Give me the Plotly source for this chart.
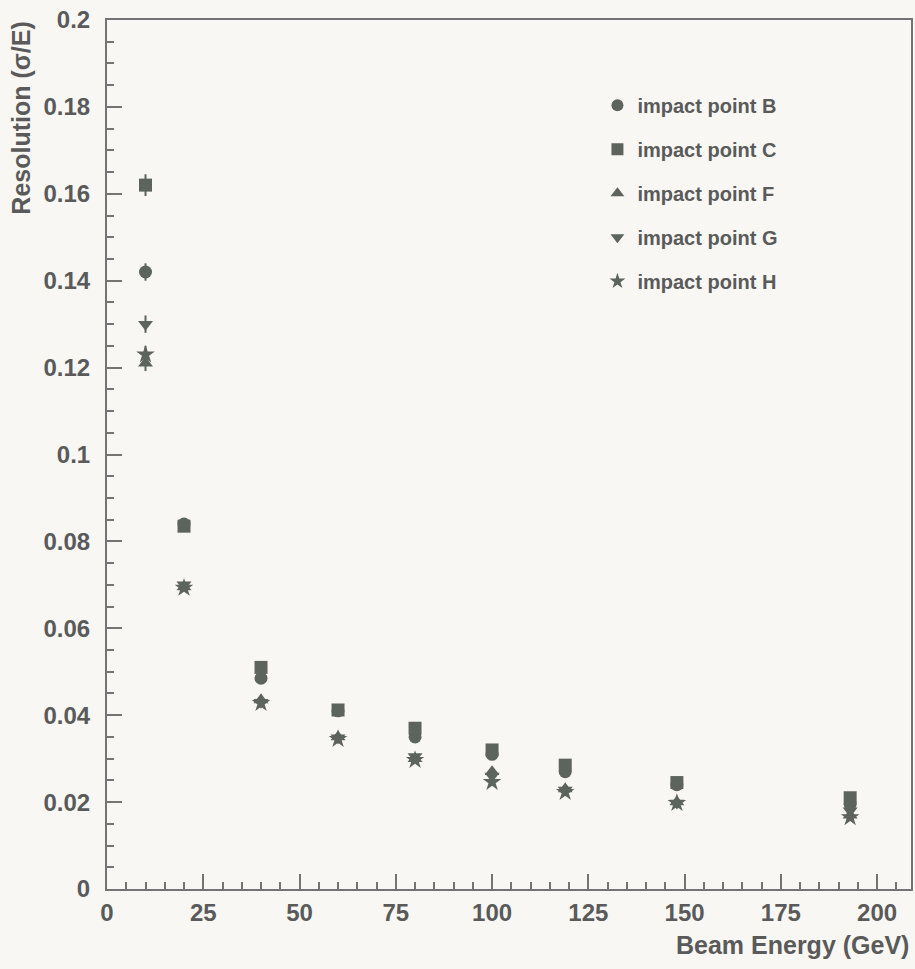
import plotly.graph_objects as go

# ---- data ----
energy = [10, 20, 40, 60, 80, 100, 119, 148, 193]

res_B = [0.142, 0.0840, 0.0485, 0.0410, 0.0350, 0.0310, 0.0270, 0.0240, 0.0195]
res_C = [0.162, 0.0835, 0.0510, 0.0412, 0.0370, 0.0320, 0.0285, 0.0245, 0.0210]
res_F = [0.121, 0.0695, 0.0435, 0.0350, 0.0300, 0.0270, 0.0230, 0.0200, 0.0170]
res_G = [0.130, 0.0700, 0.0430, 0.0348, 0.0305, 0.0260, 0.0228, 0.0198, 0.0180]
res_H = [0.123, 0.0693, 0.0428, 0.0345, 0.0297, 0.0246, 0.0223, 0.0198, 0.0165]

err_B = [0.0020, 0.0008, 0.0006, 0.0005, 0.0005, 0.0004, 0.0004, 0.0004, 0.0004]
err_C = [0.0025, 0.0008, 0.0006, 0.0005, 0.0005, 0.0004, 0.0004, 0.0004, 0.0004]
err_F = [0.0018, 0.0008, 0.0006, 0.0005, 0.0005, 0.0004, 0.0004, 0.0004, 0.0004]
err_G = [0.0020, 0.0008, 0.0006, 0.0005, 0.0005, 0.0004, 0.0004, 0.0004, 0.0004]
err_H = [0.0020, 0.0008, 0.0006, 0.0005, 0.0005, 0.0004, 0.0004, 0.0004, 0.0004]

series_names = ["impact point B", "impact point C", "impact point F",
                "impact point G", "impact point H"]
series_symbols = ["circle", "square", "triangle-up", "triangle-down", "star"]

y_tickvals = [0, 0.02, 0.04, 0.06, 0.08, 0.1, 0.12, 0.14, 0.16, 0.18, 0.2]
y_ticktext = ["0", "0.02", "0.04", "0.06", "0.08", "0.1", "0.12", "0.14", "0.16", "0.18", "0.2"]
x_tickvals = [0, 25, 50, 75, 100, 125, 150, 175, 200]
x_ticktext = ["0", "25", "50", "75", "100", "125", "150", "175", "200"]

# ---- styling ----
MARK = "#5d645d"
AXIS = "#747474"
TEXT = "#5a5a5a"
BG = "#f8f7f3"
FONT = "Liberation Sans"

fig = go.Figure()
all_res = [res_B, res_C, res_F, res_G, res_H]
all_err = [err_B, err_C, err_F, err_G, err_H]
for i, (name, sym, ys, es) in enumerate(zip(series_names, series_symbols, all_res, all_err)):
    fig.add_trace(go.Scatter(
        x=energy, y=ys, mode="markers", name=name, legendgroup=name,
        marker=dict(symbol=sym, size=13 if sym != "star" else 14, color=MARK,
                    line=dict(width=0)),
        error_y=dict(type="data", array=es, visible=True, color=MARK,
                     thickness=2, width=0),
    ))

fig.update_layout(
    width=915, height=969,
    margin=dict(l=107, r=2, t=20, b=80),
    paper_bgcolor=BG, plot_bgcolor=BG,
    font=dict(family=FONT, color=TEXT),
    showlegend=True,
    legend=dict(
        x=0.61, y=0.9244, xanchor="left", yanchor="top",
        bgcolor="rgba(0,0,0,0)", borderwidth=0,
        font=dict(family=FONT, size=20, color=TEXT, weight="bold"),
        tracegroupgap=15, traceorder="grouped",
        itemsizing="constant",
    ),
    xaxis=dict(
        range=[0, 208.8], showgrid=False, zeroline=False,
        showline=True, linecolor=AXIS, linewidth=2, mirror=True,
        ticks="inside", ticklen=15, tickwidth=2, tickcolor=AXIS,
        tickvals=x_tickvals, ticktext=x_ticktext,
        tickfont=dict(family=FONT, size=24, color=TEXT, weight="bold"),
        minor=dict(ticks="inside", ticklen=7, tickwidth=2, tickcolor=AXIS, dtick=5),
        ticklabelstandoff=1, ticklabeloverflow="allow",
    ),
    yaxis=dict(
        range=[0, 0.2], showgrid=False, zeroline=False,
        showline=True, linecolor=AXIS, linewidth=2, mirror=True,
        ticks="inside", ticklen=15, tickwidth=2, tickcolor=AXIS,
        tickvals=y_tickvals, ticktext=y_ticktext,
        tickfont=dict(family=FONT, size=24, color=TEXT, weight="bold"),
        minor=dict(ticks="inside", ticklen=7, tickwidth=2, tickcolor=AXIS, dtick=0.005),
        ticklabelstandoff=10, ticklabeloverflow="allow",
    ),
    annotations=[
        dict(text="Resolution (σ/E)", xref="paper", yref="paper",
             x=-0.108, y=1.0, xanchor="center", yanchor="top",
             textangle=-90, showarrow=False,
             font=dict(family=FONT, size=25, color=TEXT, weight="bold")),
        dict(text="Beam Energy (GeV)", xref="paper", yref="paper",
             x=1.0, y=-0.0644, xanchor="right", yanchor="middle",
             showarrow=False,
             font=dict(family=FONT, size=25, color=TEXT, weight="bold")),
    ],
)

fig.write_html(
    "out.html",
    config={"displayModeBar": False},
    post_script="document.body.style.margin='0';document.body.style.background='%s';" % BG,
)
